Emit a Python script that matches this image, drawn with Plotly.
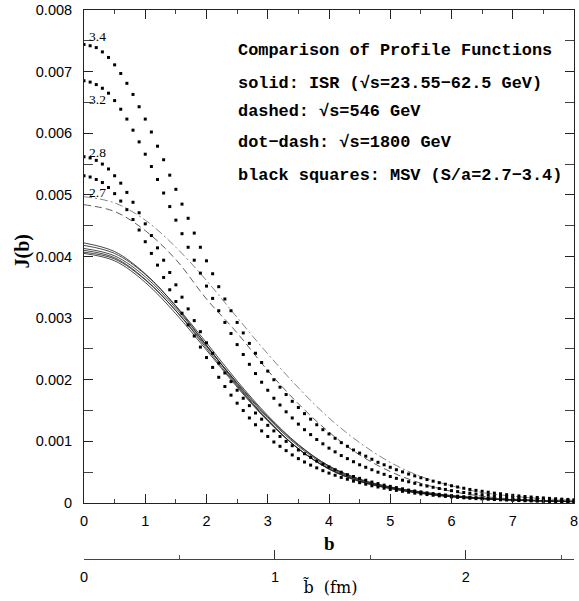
import plotly.graph_objects as go

# ---------------- data ----------------
B_DOTS = [0.0, 0.1, 0.2, 0.3, 0.4, 0.5, 0.6, 0.7, 0.8, 0.9,
          1.0, 1.1, 1.2, 1.3, 1.4, 1.5, 1.6, 1.7, 1.8, 1.9,
          2.0, 2.1, 2.2, 2.3, 2.4, 2.5, 2.6, 2.7, 2.8, 2.9,
          3.0, 3.1, 3.2, 3.3, 3.4, 3.5, 3.6, 3.7, 3.8, 3.9,
          4.0, 4.1, 4.2, 4.3, 4.4, 4.5, 4.6, 4.7, 4.8, 4.9,
          5.0, 5.1, 5.2, 5.3, 5.4, 5.5, 5.6, 5.7, 5.8, 5.9,
          6.0, 6.1, 6.2, 6.3, 6.4, 6.5, 6.6, 6.7, 6.8, 6.9,
          7.0, 7.1, 7.2, 7.3, 7.4, 7.5, 7.6, 7.7, 7.8, 7.9, 8.0]

# MSV profile functions (units of 1e-3)
MSV_34 = [7.44, 7.42, 7.39, 7.32, 7.23, 7.11, 6.97, 6.81, 6.63, 6.43,
          6.23, 6.02, 5.79, 5.57, 5.32, 5.09, 4.85, 4.62, 4.38, 4.15,
          3.93, 3.72, 3.51, 3.31, 3.12, 2.93, 2.76, 2.59, 2.43, 2.28,
          2.14, 2.00, 1.88, 1.76, 1.65, 1.55, 1.45, 1.36, 1.27, 1.19,
          1.12, 1.05, 0.98, 0.92, 0.86, 0.81, 0.76, 0.71, 0.66, 0.62,
          0.58, 0.54, 0.505, 0.47, 0.44, 0.41, 0.38, 0.355, 0.33, 0.305,
          0.28, 0.26, 0.24, 0.22, 0.205, 0.19, 0.175, 0.16, 0.15, 0.135,
          0.125, 0.115, 0.105, 0.097, 0.09, 0.082, 0.075, 0.069, 0.063, 0.058, 0.053]
MSV_32 = [6.85, 6.83, 6.79, 6.73, 6.65, 6.53, 6.39, 6.23, 6.05, 5.86,
          5.66, 5.46, 5.25, 5.03, 4.81, 4.59, 4.37, 4.15, 3.94, 3.73,
          3.52, 3.32, 3.12, 2.93, 2.75, 2.57, 2.41, 2.25, 2.10, 1.96,
          1.83, 1.70, 1.59, 1.48, 1.38, 1.28, 1.19, 1.11, 1.03, 0.96,
          0.89, 0.83, 0.77, 0.72, 0.67, 0.62, 0.58, 0.54, 0.50, 0.465,
          0.43, 0.40, 0.37, 0.345, 0.32, 0.295, 0.275, 0.255, 0.235, 0.22,
          0.20, 0.185, 0.17, 0.16, 0.145, 0.135, 0.125, 0.115, 0.105, 0.098,
          0.09, 0.083, 0.077, 0.071, 0.065, 0.06, 0.055, 0.051, 0.047, 0.043, 0.04]
MSV_28 = [5.62, 5.60, 5.56, 5.50, 5.42, 5.31, 5.19, 5.04, 4.88, 4.71,
          4.53, 4.34, 4.14, 3.94, 3.74, 3.54, 3.34, 3.15, 2.96, 2.78,
          2.60, 2.43, 2.27, 2.11, 1.97, 1.83, 1.70, 1.58, 1.46, 1.36,
          1.26, 1.17, 1.08, 1.00, 0.93, 0.86, 0.80, 0.74, 0.68, 0.63,
          0.585, 0.54, 0.50, 0.46, 0.43, 0.40, 0.37, 0.34, 0.315, 0.29,
          0.27, 0.25, 0.23, 0.21, 0.195, 0.18, 0.165, 0.153, 0.141, 0.13,
          0.12, 0.11, 0.102, 0.094, 0.087, 0.08, 0.074, 0.068, 0.063, 0.058,
          0.053, 0.049, 0.045, 0.042, 0.038, 0.035, 0.032, 0.03, 0.027, 0.025, 0.023]
MSV_27 = [5.31, 5.29, 5.25, 5.20, 5.12, 5.02, 4.90, 4.76, 4.60, 4.43,
          4.24, 4.05, 3.86, 3.66, 3.46, 3.27, 3.08, 2.89, 2.71, 2.53,
          2.36, 2.20, 2.04, 1.89, 1.75, 1.62, 1.50, 1.38, 1.27, 1.17,
          1.08, 0.99, 0.92, 0.85, 0.78, 0.72, 0.665, 0.615, 0.57, 0.525,
          0.485, 0.45, 0.415, 0.385, 0.355, 0.33, 0.305, 0.28, 0.26, 0.24,
          0.22, 0.205, 0.19, 0.175, 0.16, 0.148, 0.137, 0.126, 0.116, 0.107,
          0.099, 0.091, 0.084, 0.077, 0.071, 0.066, 0.061, 0.056, 0.052, 0.048,
          0.044, 0.04, 0.037, 0.034, 0.032, 0.029, 0.027, 0.025, 0.023, 0.021, 0.019]
MSV_LABELS = ["3.4", "3.2", "2.8", "2.7"]

# curves (units of 1e-3) at these b values
B_KNOTS = [0.0, 0.5, 1.0, 1.5, 2.0, 2.5, 3.0, 3.5, 4.0, 4.5, 5.0, 5.5, 6.0, 6.5, 7.0, 7.5, 8.0]
ISR_1 = [4.22, 4.08, 3.72, 3.19, 2.56, 1.92, 1.35, 0.88, 0.55, 0.35, 0.235, 0.16, 0.10, 0.07, 0.045, 0.03, 0.02]
ISR_2 = [4.18, 4.05, 3.71, 3.20, 2.60, 1.98, 1.42, 0.95, 0.60, 0.38, 0.26, 0.18, 0.12, 0.08, 0.055, 0.038, 0.027]
ISR_3 = [4.13, 4.01, 3.67, 3.16, 2.56, 1.94, 1.38, 0.92, 0.58, 0.37, 0.25, 0.17, 0.11, 0.075, 0.05, 0.035, 0.025]
ISR_4 = [4.10, 3.98, 3.63, 3.12, 2.51, 1.90, 1.34, 0.88, 0.56, 0.36, 0.24, 0.16, 0.105, 0.07, 0.048, 0.033, 0.023]
ISR_5 = [4.07, 3.96, 3.62, 3.12, 2.54, 1.95, 1.40, 0.94, 0.60, 0.39, 0.26, 0.18, 0.12, 0.08, 0.053, 0.037, 0.026]
ISR_6 = [4.05, 3.93, 3.58, 3.07, 2.48, 1.88, 1.33, 0.88, 0.55, 0.35, 0.235, 0.155, 0.10, 0.068, 0.046, 0.032, 0.022]
SPS_546 = [4.84, 4.73, 4.42, 3.95, 3.31, 2.76, 2.15, 1.61, 1.15, 0.78, 0.51, 0.32, 0.19, 0.11, 0.065, 0.038, 0.022]
TEV_1800 = [4.97, 4.87, 4.59, 4.15, 3.61, 3.01, 2.42, 1.87, 1.38, 0.98, 0.66, 0.43, 0.28, 0.17, 0.11, 0.07, 0.045]

LEGEND_LINES = [
    "Comparison of Profile Functions",
    "solid: ISR (√s=23.55−62.5 GeV)",
    "dashed: √s=546 GeV",
    "dot−dash: √s=1800 GeV",
    "black squares: MSV (S/a=2.7−3.4)",
]
B_PER_FM = 3.117   # b units per fm (lower axis conversion)

Y_TICKS = [0, 0.001, 0.002, 0.003, 0.004, 0.005, 0.006, 0.007, 0.008]
Y_TICKTEXT = ["0", "0.001", "0.002", "0.003", "0.004", "0.005", "0.006", "0.007", "0.008"]
X_TICKS = [0, 1, 2, 3, 4, 5, 6, 7, 8]
FM_TICKS = [0, 1, 2]

# ---------------- figure ----------------
W, H = 579, 601
ML, MR, MT, MB = 84, 1, 10, 42
PW, PH = W - ML - MR, H - MT - MB
X_AXIS_PX = 503
YDOM0 = (MT + PH - X_AXIS_PX) / PH


def px2paper(px, py):
    return (px - ML) / PW, (MT + PH - py) / PH


def s(v):
    return [a * 1e-3 for a in v]


fig = go.Figure()

for ser in [ISR_1, ISR_2, ISR_3, ISR_4, ISR_5, ISR_6]:
    fig.add_trace(go.Scatter(x=B_KNOTS, y=s(ser), mode="lines", line_shape="spline",
                             line=dict(color="#1a1a1a", width=0.8), showlegend=False,
                             hoverinfo="skip"))

fig.add_trace(go.Scatter(x=B_KNOTS, y=s(SPS_546), mode="lines", line_shape="spline",
                         line=dict(color="#333333", width=0.8, dash="7px,4px"),
                         showlegend=False, hoverinfo="skip"))
fig.add_trace(go.Scatter(x=B_KNOTS, y=s(TEV_1800), mode="lines", line_shape="spline",
                         line=dict(color="#666666", width=0.8, dash="8px,3px,2px,3px"),
                         showlegend=False, hoverinfo="skip"))

for ser in [MSV_34, MSV_32, MSV_28, MSV_27]:
    fig.add_trace(go.Scatter(x=B_DOTS, y=s(ser), mode="markers",
                             marker=dict(symbol="square", size=3, color="black",
                                         line=dict(width=0)),
                             showlegend=False, hoverinfo="skip"))

# invisible trace for the lower fm axis
fig.add_trace(go.Scatter(x=[0, 8 / B_PER_FM], y=[0, 0], xaxis="x2", yaxis="y",
                         mode="markers", marker=dict(opacity=0), showlegend=False,
                         hoverinfo="skip"))

tickfont = dict(family="Liberation Sans, Arial, sans-serif", size=14.5, color="black")

fig.update_layout(
    width=W, height=H,
    margin=dict(l=ML, r=MR, t=MT, b=MB, pad=0),
    paper_bgcolor="white", plot_bgcolor="white",
    xaxis=dict(range=[0, 8], domain=[0, 1], anchor="y",
               tickmode="array", tickvals=X_TICKS, ticktext=[str(t) for t in X_TICKS],
               ticks="inside", ticklen=9, tickwidth=1, tickcolor="#222",
               minor=dict(dtick=0.5, ticks="inside", ticklen=4, tickwidth=1, tickcolor="#444"),
               showline=True, linecolor="#222", linewidth=1, mirror="allticks",
               showgrid=False, zeroline=False, tickfont=tickfont, ticklabelstandoff=5,
               ticklabeloverflow="allow"),
    yaxis=dict(range=[0, 0.008], domain=[YDOM0, 1], anchor="x",
               tickmode="array", tickvals=Y_TICKS, ticktext=Y_TICKTEXT,
               ticks="inside", ticklen=9, tickwidth=1, tickcolor="#222",
               minor=dict(dtick=0.0005, ticks="inside", ticklen=4, tickwidth=1, tickcolor="#444"),
               showline=True, linecolor="#222", linewidth=1, mirror="allticks",
               showgrid=False, zeroline=False, tickfont=tickfont, ticklabelstandoff=8,
               ticklabeloverflow="allow"),
    xaxis2=dict(range=[0, 8 / B_PER_FM], domain=[0, 1], anchor="free", position=0,
                overlaying="x", side="bottom",
                tickmode="array", tickvals=FM_TICKS, ticktext=[str(t) for t in FM_TICKS],
                ticks="inside", ticklen=9, tickwidth=1, tickcolor="#333",
                minor=dict(dtick=0.5, ticks="inside", ticklen=4, tickwidth=1, tickcolor="#555"),
                showline=True, linecolor="#444", linewidth=1,
                showgrid=False, zeroline=False, tickfont=tickfont, ticklabelstandoff=5,
                ticklabeloverflow="allow"),
)

ann = []
# legend text block
leg_y = [50.7, 83.3, 112, 143, 175]
for txt, py in zip(LEGEND_LINES, leg_y):
    x, y = px2paper(237, py)
    ann.append(dict(text="<b>" + txt + "</b>", x=x, y=y, xref="paper", yref="paper",
                    xanchor="left", yanchor="middle", showarrow=False,
                    font=dict(family="Liberation Mono, Courier New, monospace", size=16.9,
                              color="black")))
# MSV labels
lab_pos = [(87, 36), (87, 100), (87, 152), (87, 192)]
for txt, (px, py) in zip(MSV_LABELS, lab_pos):
    x, y = px2paper(px, py)
    ann.append(dict(text=txt, x=x, y=y, xref="paper", yref="paper", xanchor="left",
                    yanchor="middle", showarrow=False,
                    font=dict(family="Liberation Serif, Times New Roman, serif", size=13.5,
                              color="black")))
# axis titles
serif_b = dict(family="Liberation Serif, Times New Roman, serif", size=20, color="black")
x, y = px2paper(21, 252)
ann.append(dict(text="<b>J(b)</b>", x=x, y=y, xref="paper", yref="paper", textangle=-90,
                showarrow=False, font=serif_b, xanchor="center", yanchor="middle"))
x, y = px2paper(331, 543)
ann.append(dict(text="<b>b</b>", x=x, y=y, xref="paper", yref="paper",
                showarrow=False, font=dict(family="Liberation Serif, serif", size=19,
                                           color="black"),
                xanchor="center", yanchor="middle"))
x, y = px2paper(332, 587)
ann.append(dict(text="b\u0303  (fm)", x=x, y=y, xref="paper", yref="paper",
                showarrow=False,
                font=dict(family="DejaVu Serif, serif", size=16, color="black"),
                xanchor="center", yanchor="middle"))
fig.update_layout(annotations=ann)

fig.write_html("out.html")
